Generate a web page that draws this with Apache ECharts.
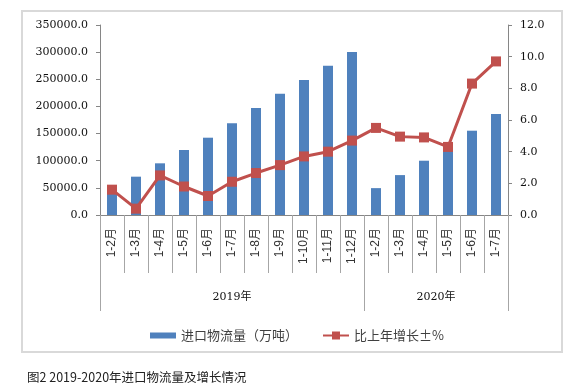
<!DOCTYPE html>
<html>
<head>
<meta charset="utf-8">
<script src="https://cdn.jsdelivr.net/npm/echarts@6/dist/echarts.min.js"></script>
<style>
html,body{margin:0;padding:0;background:#fff;}
#chart{width:573px;height:392px;}
</style>
</head>
<body>
<div id="chart"></div>
<script>
var categories = ['1-2月','1-3月','1-4月','1-5月','1-6月','1-7月','1-8月','1-9月','1-10月','1-11月','1-12月','1-2月','1-3月','1-4月','1-5月','1-6月','1-7月'];
var volumes = [53000, 70600, 95200, 119700, 142400, 168900, 197100, 223500, 248700, 275100, 300300, 49500, 73500, 100000, 126000, 155300, 186000];
var growth = [1.6, 0.4, 2.5, 1.8, 1.2, 2.1, 2.65, 3.15, 3.7, 4.0, 4.7, 5.5, 4.95, 4.9, 4.3, 8.3, 9.7];
var groups = ['2019年', '2020年'];
var groupSizes = [11, 6];
var leftTicks = [0, 50000, 100000, 150000, 200000, 250000, 300000, 350000];
var rightTicks = [0, 2, 4, 6, 8, 10, 12];
var seriesNames = ['进口物流量（万吨）', '比上年增长±%'];
var caption = '图2 2019-2020年进口物流量及增长情况';

// group boundaries and centers (in category units)
var bounds = [0], centers = [];
groupSizes.reduce(function (acc, n) {
  centers.push(acc + n / 2);
  bounds.push(acc + n);
  return acc + n;
}, 0);

var serif = '"DejaVu Serif", "Noto Sans CJK SC", serif';
var sans = '"Liberation Sans", "Noto Sans CJK SC", sans-serif';
var axisGray = '#868686';

var chart = echarts.init(document.getElementById('chart'), null, {renderer: 'canvas'});
chart.setOption({
  animation: false,
  backgroundColor: '#fff',
  grid: {left: 100, right: 65, top: 25, bottom: 177, containLabel: false},
  graphic: [
    {type: 'rect', shape: {x: 22, y: 11, width: 540, height: 341},
     style: {fill: 'none', stroke: '#d9d9d9', lineWidth: 2}},
    {type: 'text', left: 27, top: 371,
     style: {text: caption, font: '12.5px "Noto Sans CJK SC", sans-serif', fill: '#222'}}
  ],
  legend: {
    left: 145, top: 324,
    itemWidth: 26, itemHeight: 10, itemGap: 24,
    textStyle: {fontFamily: '"Noto Sans CJK SC", sans-serif', fontSize: 13, color: '#404040'},
    data: [
      {name: seriesNames[0], icon: 'path://M0,0 H26 V6 H0 Z'},
      {name: seriesNames[1]}
    ]
  },
  xAxis: [
    {
      type: 'category', data: categories, position: 'bottom',
      axisLine: {lineStyle: {color: axisGray, width: 1}},
      axisTick: {show: true, interval: 0, length: 58, lineStyle: {color: '#a6a6a6'}},
      axisLabel: {interval: 0, rotate: 90, margin: 13, fontFamily: sans, fontSize: 12, color: '#333'}
    },
    {
      type: 'value', min: 0, max: categories.length, position: 'bottom',
      axisLine: {show: false},
      splitLine: {show: false},
      axisTick: {show: true, customValues: bounds, length: 96, lineStyle: {color: '#a6a6a6'}},
      axisLabel: {
        customValues: centers, margin: 77,
        fontFamily: serif, fontSize: 11, color: '#111',
        formatter: function (v) {
          var i = centers.indexOf(v);
          return i >= 0 ? groups[i] : '';
        }
      }
    }
  ],
  yAxis: [
    {
      type: 'value', min: leftTicks[0], max: leftTicks[leftTicks.length - 1], interval: leftTicks[1] - leftTicks[0],
      axisLine: {show: true, lineStyle: {color: axisGray}},
      axisTick: {show: true, length: 4, lineStyle: {color: axisGray}},
      splitLine: {show: false},
      axisLabel: {margin: 12, fontFamily: serif, fontSize: 11, color: '#111',
        formatter: function (v) { return v.toFixed(1); }}
    },
    {
      type: 'value', min: rightTicks[0], max: rightTicks[rightTicks.length - 1], interval: rightTicks[1] - rightTicks[0],
      position: 'right',
      axisLine: {show: true, lineStyle: {color: axisGray}},
      axisTick: {show: true, length: 4, lineStyle: {color: axisGray}},
      splitLine: {show: false},
      axisLabel: {margin: 12, fontFamily: serif, fontSize: 11, color: '#111',
        formatter: function (v) { return v.toFixed(1); }}
    }
  ],
  series: [
    {
      name: seriesNames[0], type: 'bar', data: volumes, xAxisIndex: 0, yAxisIndex: 0,
      barWidth: 10, itemStyle: {color: '#4F81BD'}
    },
    {
      name: seriesNames[1], type: 'line', data: growth, xAxisIndex: 0, yAxisIndex: 1,
      symbol: 'rect', symbolSize: 10, showSymbol: true,
      lineStyle: {color: '#C0504D', width: 3},
      itemStyle: {color: '#C0504D'}
    }
  ]
});
</script>
</body>
</html>
